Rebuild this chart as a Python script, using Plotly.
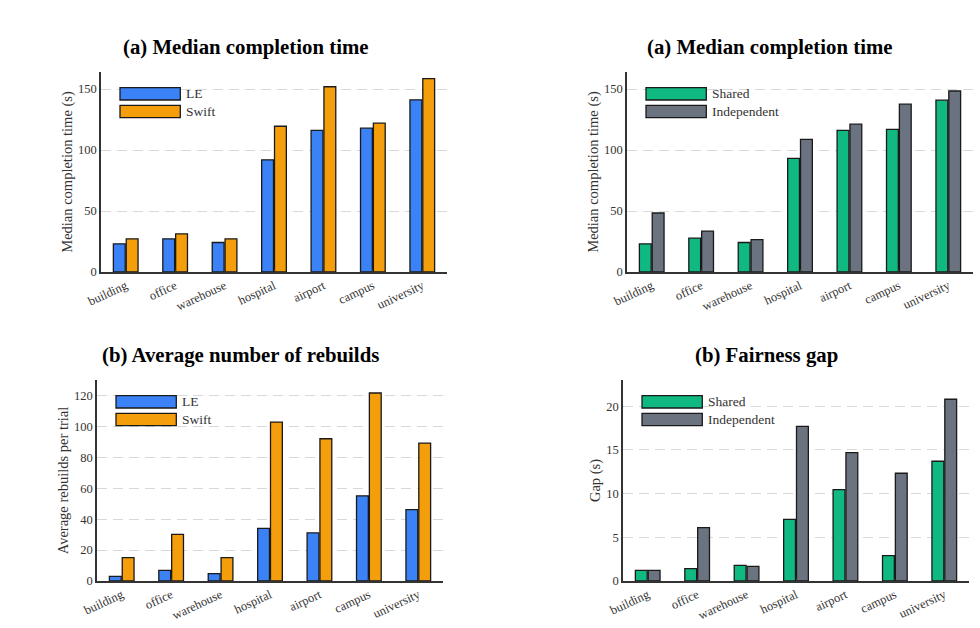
import plotly.graph_objects as go

categories = ["building", "office", "warehouse", "hospital", "airport", "campus", "university"]

# Panel 1 (top-left): median completion time, LE vs Swift
p1_le = [23.1, 27.2, 24.2, 92.0, 116.2, 117.9, 141.2]
p1_swift = [27.2, 31.3, 27.2, 119.5, 151.9, 122.0, 158.5]

# Panel 2 (top-right): median completion time, Shared vs Independent
p2_shared = [23.1, 27.7, 24.2, 93.1, 116.2, 117.0, 140.9]
p2_indep = [48.4, 33.5, 26.6, 108.8, 121.2, 137.6, 148.4]

# Panel 3 (bottom-left): average rebuilds, LE vs Swift
p3_le = [3.0, 6.9, 4.75, 34.1, 31.1, 55.1, 46.2]
p3_swift = [15.1, 30.2, 15.1, 102.8, 92.0, 121.6, 89.2]

# Panel 4 (bottom-right): fairness gap, Shared vs Independent
p4_shared = [1.22, 1.41, 1.79, 7.06, 10.46, 2.9, 13.7]
p4_indep = [1.22, 6.1, 1.68, 17.7, 14.7, 12.33, 20.8]

titles = ["(a) Median completion time", "(a) Median completion time",
          "(b) Average number of rebuilds", "(b) Fairness gap"]
ytitles = ["Median completion time (s)", "Median completion time (s)",
           "Average rebuilds per trial", "Gap (s)"]
yticks = [[0, 50, 100, 150], [0, 50, 100, 150], [0, 20, 40, 60, 80, 100, 120], [0, 5, 10, 15, 20]]
yranges = [[0, 164], [0, 164], [0, 130], [0, 23]]

BLUE = "#3b82f6"
ORANGE = "#f59e0b"
GREEN = "#10b981"
GRAY = "#6b7280"

FONT = "Liberation Serif, Times New Roman, serif"
W, H = 980, 628

# panel pixel boxes: (left, right, top, bottom)
boxes = [(101, 447, 72, 272), (627, 973, 72, 272), (97, 443, 380, 581), (623, 969, 380, 581)]
title_pos = [(245, 46.7), (769.5, 46.7), (240, 355), (766, 355)]

series = [
    [("LE", p1_le, BLUE), ("Swift", p1_swift, ORANGE)],
    [("Shared", p2_shared, GREEN), ("Independent", p2_indep, GRAY)],
    [("LE", p3_le, BLUE), ("Swift", p3_swift, ORANGE)],
    [("Shared", p4_shared, GREEN), ("Independent", p4_indep, GRAY)],
]

fig = go.Figure()
shapes = []
annotations = []
layout = dict(
    width=W, height=H, margin=dict(l=0, r=0, t=0, b=0, autoexpand=False),
    paper_bgcolor="white", plot_bgcolor="white",
    showlegend=False, barmode="group", bargap=0.48, bargroupgap=0.08,
    font=dict(family=FONT, color="#333333", size=11),
)

for i in range(4):
    n = i + 1
    xa = "x" if n == 1 else f"x{n}"
    ya = "y" if n == 1 else f"y{n}"
    l, r, t, b = boxes[i]
    pw, ph = r - l, b - t
    for name, vals, col in series[i]:
        fig.add_trace(go.Bar(
            x=categories, y=vals, name=name, xaxis=xa, yaxis=ya,
            marker=dict(color=col, line=dict(color="#1a1a1a", width=1.3)),
            offsetgroup=name,
        ))
    layout[f"xaxis{'' if n == 1 else n}"] = dict(
        domain=[l / W, r / W], anchor=ya, automargin=False,
        range=[-0.5, 6.5], type="category",
        showline=True, linecolor="#333333", linewidth=1.5,
        ticks="inside", ticklen=3, tickcolor="#333333", tickwidth=1.2,
        tickangle=-25, tickfont=dict(family=FONT, size=12.5, color="#333333"),
        showgrid=False, zeroline=False,
    )
    layout[f"yaxis{'' if n == 1 else n}"] = dict(
        domain=[1 - b / H, 1 - t / H], anchor=xa, automargin=False,
        range=yranges[i], tickvals=yticks[i],
        showline=True, linecolor="#333333", linewidth=1.5,
        ticks="", tickfont=dict(family=FONT, size=12.5, color="#333333"),
        showgrid=True, gridcolor="#d9d9d9", gridwidth=1, griddash="10px,6px",
        zeroline=False,
        title=dict(text=ytitles[i], font=dict(family=FONT, size=14.5, color="#333333"), standoff=2),
    )
    # legend drawn inside the axes
    xd = f"{xa} domain"
    yd = f"{ya} domain"
    tops = [15.7, 33.3]
    for k, (name, vals, col) in enumerate(series[i]):
        y1 = 1 - tops[k] / ph
        y0 = 1 - (tops[k] + 12.3) / ph
        shapes.append(dict(type="rect", xref=xd, yref=yd,
                           x0=19 / pw, x1=79.3 / pw, y0=y0, y1=y1,
                           fillcolor=col, line=dict(color="#1a1a1a", width=1.3)))
        annotations.append(dict(xref=xd, yref=yd, x=83 / pw, y=(y0 + y1) / 2,
                                text=name, showarrow=False, xanchor="left", yanchor="middle",
                                font=dict(family=FONT, size=13.5, color="#333333")))
    tx, ty = title_pos[i]
    annotations.append(dict(xref="paper", yref="paper", x=tx / W, y=1 - ty / H,
                            text=f"<b>{titles[i]}</b>", showarrow=False,
                            xanchor="center", yanchor="middle",
                            font=dict(family=FONT, size=20.8, color="black")))

layout["shapes"] = shapes
layout["annotations"] = annotations
fig.update_layout(**layout)
fig.write_html("out.html")
